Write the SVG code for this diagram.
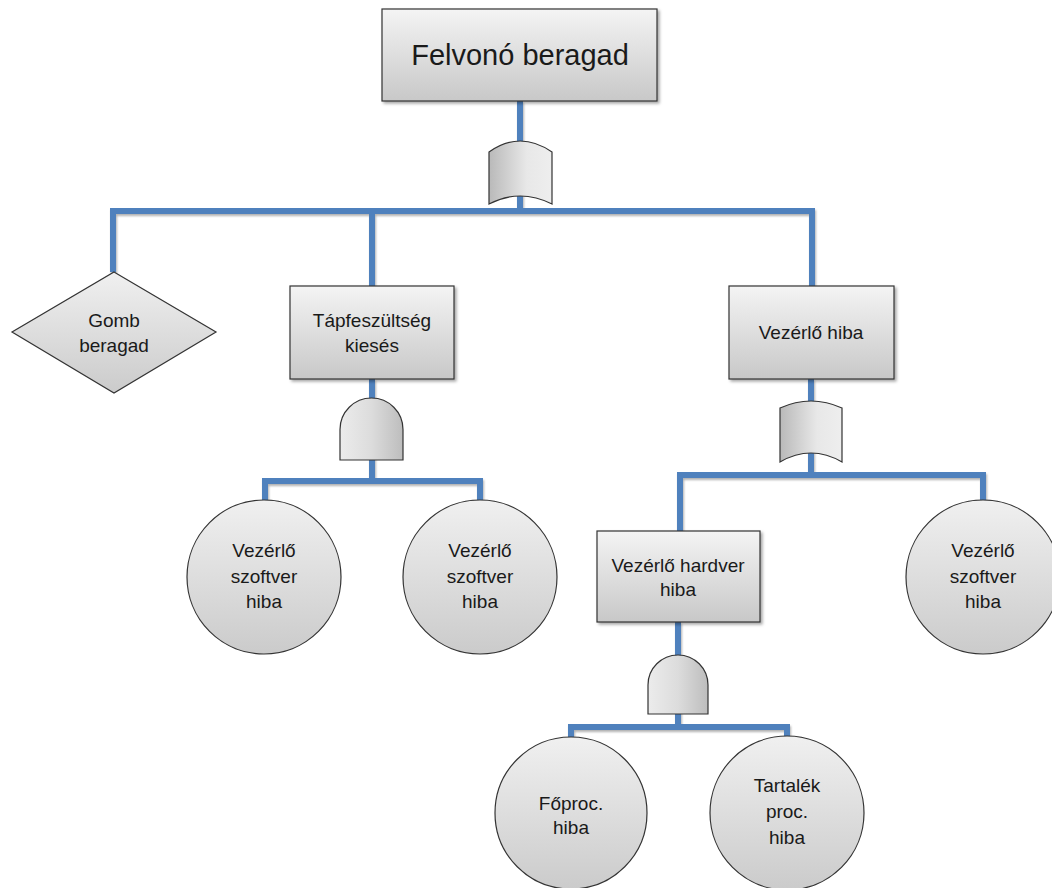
<svg xmlns="http://www.w3.org/2000/svg" width="1052" height="888" viewBox="0 0 1052 888">
  <defs>
    <linearGradient id="gBox" x1="0" y1="0" x2="0" y2="1">
      <stop offset="0" stop-color="#f4f4f4"/>
      <stop offset="1" stop-color="#c8c8c8"/>
    </linearGradient>
    <linearGradient id="gRound" x1="0" y1="0" x2="0" y2="1">
      <stop offset="0" stop-color="#f0f0f0"/>
      <stop offset="1" stop-color="#cbcbcb"/>
    </linearGradient>
    <linearGradient id="gOr" x1="0" y1="0" x2="1" y2="0">
      <stop offset="0" stop-color="#b9b9b9"/>
      <stop offset="0.6" stop-color="#e8e8e8"/>
      <stop offset="1" stop-color="#eeeeee"/>
    </linearGradient>
    <linearGradient id="gAnd" x1="0" y1="0" x2="1" y2="0">
      <stop offset="0" stop-color="#ececec"/>
      <stop offset="0.5" stop-color="#dcdcdc"/>
      <stop offset="1" stop-color="#bdbdbd"/>
    </linearGradient>
    <filter id="shadow" x="-10%" y="-10%" width="130%" height="130%">
      <feDropShadow dx="2" dy="2" stdDeviation="1.5" flood-color="#000" flood-opacity="0.35"/>
    </filter>
    <filter id="lineShadow" x="-5%" y="-5%" width="110%" height="110%">
      <feDropShadow dx="1" dy="2" stdDeviation="1" flood-color="#000" flood-opacity="0.3"/>
    </filter>
  </defs>
  <style>
    .wire { fill: none; stroke: #4f81bd; stroke-width: 6; stroke-linejoin: miter; stroke-linecap: butt; }
    .box { fill: url(#gBox); stroke: #333; stroke-width: 1.2; filter: url(#shadow); }
    .round { fill: url(#gRound); stroke: #333; stroke-width: 1.2; }
    .orgate { fill: url(#gOr); stroke: #333; stroke-width: 1.2; }
    .andgate { fill: url(#gAnd); stroke: #333; stroke-width: 1.2; }
    text { font-family: "Liberation Sans", Arial, sans-serif; fill: #1a1a1a; text-anchor: middle; font-size: 19px; }
    .title { font-size: 29px; }
  </style>

  <rect width="1052" height="888" fill="#ffffff"/>

  <!-- connectors -->
  <g id="connectors" filter="url(#lineShadow)">
    <path class="wire" d="M520,101 V211"/>
    <path class="wire" d="M113,272 V211 H812 V286"/>
    <path class="wire" d="M372,211 V286"/>
    <path class="wire" d="M372,379 V481"/>
    <path class="wire" d="M265,500 V481 H480 V500"/>
    <path class="wire" d="M811,379 V475"/>
    <path class="wire" d="M680,531 V475 H983 V500"/>
    <path class="wire" d="M678,622 V727"/>
    <path class="wire" d="M571,737 V727 H787 V737"/>
  </g>

  <!-- top event -->
  <g id="felvono-beragad">
    <rect class="box" x="382" y="9" width="275" height="92"/>
    <text class="title" x="520" y="65">Felvonó beragad</text>
  </g>

  <!-- OR gate under the top event -->
  <g id="gate-or-top">
    <path class="orgate" d="M489,152 Q520,130 552,152 L552,204 Q520,188 489,204 Z"/>
  </g>

  <g id="gomb-beragad">
    <polygon class="round" points="114,272 216,332 114,393 12,332"/>
    <text x="114" y="327">Gomb</text>
    <text x="114" y="352">beragad</text>
  </g>

  <g id="tapfeszultseg-kieses">
    <rect class="box" x="290" y="286" width="164" height="93"/>
    <text x="372" y="327">Tápfeszültség</text>
    <text x="372" y="352">kiesés</text>
  </g>

  <g id="gate-and-tap">
    <path class="andgate" d="M340,460 V429.5 A31.5,31.5 0 0 1 403,429.5 V460 Z"/>
  </g>

  <g id="vezerlo-hiba">
    <rect class="box" x="729" y="286" width="165" height="93"/>
    <text x="811" y="339">Vezérlő hiba</text>
  </g>

  <g id="gate-or-vezerlo">
    <path class="orgate" d="M780,408 Q811,394 842,408 L842,462 Q811,444 780,462 Z"/>
  </g>

  <g id="szoftver-hiba-1">
    <circle class="round" cx="264" cy="577" r="77"/>
    <text x="264" y="557">Vezérlő</text>
    <text x="264" y="583">szoftver</text>
    <text x="264" y="608">hiba</text>
  </g>

  <g id="szoftver-hiba-2">
    <circle class="round" cx="480" cy="577" r="77"/>
    <text x="480" y="557">Vezérlő</text>
    <text x="480" y="583">szoftver</text>
    <text x="480" y="608">hiba</text>
  </g>

  <g id="vezerlo-hardver-hiba">
    <rect class="box" x="597" y="531" width="163" height="91"/>
    <text x="678" y="572">Vezérlő hardver</text>
    <text x="678" y="596">hiba</text>
  </g>

  <g id="szoftver-hiba-3">
    <circle class="round" cx="983" cy="577" r="77"/>
    <text x="983" y="557">Vezérlő</text>
    <text x="983" y="583">szoftver</text>
    <text x="983" y="608">hiba</text>
  </g>

  <g id="gate-and-hardver">
    <path class="andgate" d="M648,714 V685 A30,30 0 0 1 708,685 V714 Z"/>
  </g>

  <g id="foproc-hiba">
    <circle class="round" cx="571" cy="813" r="76"/>
    <text x="571" y="810">Főproc.</text>
    <text x="571" y="834">hiba</text>
  </g>

  <g id="tartalek-proc-hiba">
    <circle class="round" cx="787" cy="813" r="77"/>
    <text x="787" y="792">Tartalék</text>
    <text x="787" y="818">proc.</text>
    <text x="787" y="844">hiba</text>
  </g>
</svg>
